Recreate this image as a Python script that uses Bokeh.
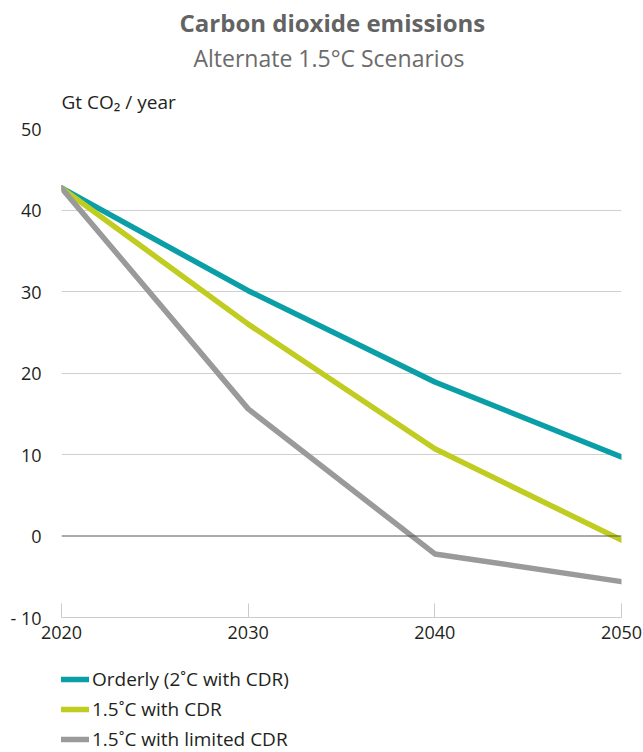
from bokeh.plotting import figure
from bokeh.models import Title, FixedTicker, Legend, LegendItem, Span
from bokeh.layouts import column
from bokeh.embed import file_html
from bokeh.resources import INLINE

years = [2020, 2030, 2040, 2050]
orderly = [42.7, 30.1, 18.9, 9.7]
cdr = [42.7, 26.0, 10.7, -0.5]
limited = [42.7, 15.6, -2.2, -5.6]
y_ticks = [-10, 0, 10, 20, 30, 40, 50]
grid_ticks = [10, 20, 30, 40, 50]
x_ticks = [2020, 2030, 2040, 2050]
series_names = ["Orderly (2˚C with CDR)", "1.5˚C with CDR", "1.5˚C with limited CDR"]
series_values = [orderly, cdr, limited]
colors = ["#0a9fa6", "#c0cc1f", "#9a9a9a"]

FONT = "Open Sans"
TXT = "#231f20"

p = figure(frame_width=560, frame_height=489, x_range=(2020, 2050), y_range=(-10, 50),
           output_backend="svg", toolbar_location=None,
           min_border_left=61, min_border_right=22, min_border_top=128, min_border_bottom=40)
p.outline_line_color = None
p.background_fill_color = "white"
p.border_fill_color = "white"

# titles (later added = further from frame)
t_axis = Title(text="Gt CO₂ / year", align="left", text_font=FONT, text_font_size="19px",
               text_font_style="normal", text_color=TXT, standoff=27)
t_sub = Title(text="Alternate 1.5°C Scenarios", align="left", offset=132, text_font=FONT,
              text_font_size="23px", text_font_style="normal", text_color="#6b6b6b", standoff=0)
t_main = Title(text="Carbon dioxide emissions", align="left", offset=118, text_font=FONT,
               text_font_size="24px", text_font_style="bold", text_color="#636363", standoff=1)
p.add_layout(t_axis, "above")
p.add_layout(t_sub, "above")
p.add_layout(t_main, "above")

# axes
p.xaxis.ticker = FixedTicker(ticks=x_ticks)
p.xaxis.axis_line_color = "#cccccc"
p.xaxis.major_tick_line_color = "#cccccc"
p.xaxis.major_tick_in = 14
p.xaxis.major_tick_out = 0
p.xaxis.minor_tick_line_color = None
p.xaxis.major_label_text_font = FONT
p.xaxis.major_label_text_font_size = "18px"
p.xaxis.major_label_text_color = TXT
p.xaxis.major_label_standoff = 8

p.yaxis.ticker = FixedTicker(ticks=y_ticks)
p.yaxis.major_label_overrides = {-10: "- 10"}
p.yaxis.axis_line_color = None
p.yaxis.major_tick_line_color = None
p.yaxis.minor_tick_line_color = None
p.yaxis.major_label_text_font = FONT
p.yaxis.major_label_text_font_size = "18px"
p.yaxis.major_label_text_color = TXT
p.yaxis.major_label_standoff = 14

p.xgrid.grid_line_color = None
p.ygrid.ticker = FixedTicker(ticks=grid_ticks)
p.ygrid.grid_line_color = "#cfcfcf"
p.ygrid.grid_line_width = 1

zero = Span(location=0, dimension="width", line_color="#555555", line_width=1)
p.add_layout(zero)

for vals, col in zip(series_values, colors):
    p.line(years, vals, line_color=col, line_width=5.5, line_cap="round", line_join="round")

# legend figure below the chart
lg = figure(width=643, height=95, x_axis_type=None, y_axis_type=None,
            output_backend="svg", toolbar_location=None, min_border=0)
lg.outline_line_color = None
lg.background_fill_color = "white"
lg.border_fill_color = "white"
items = []
for name, vals, col in zip(series_names, series_values, colors):
    r = lg.line(years, vals, line_color=col, line_width=5.5, line_cap="round", visible=False)
    items.append(LegendItem(label=name, renderers=[r]))

legend = Legend(items=items, location=(0, 0), orientation="vertical",
                label_text_font=FONT, label_text_font_size="19px", label_text_color=TXT,
                glyph_width=28, glyph_height=22, label_height=22, label_standoff=3, spacing=4,
                padding=0, margin=0, border_line_color=None, background_fill_alpha=0)
lg.add_layout(legend)

layout = column(p, lg, spacing=0)
open("out.html", "w").write(file_html(layout, INLINE))
